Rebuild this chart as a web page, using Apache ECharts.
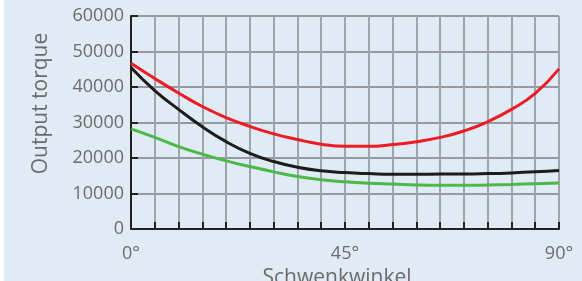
<!DOCTYPE html>
<html>
<head>
<meta charset="utf-8">
<style>
	html, body {
		margin: 0;
		padding: 0;
		background: #ffffff;
	}
	#chart {
		position: absolute;
		left: 4px;
		top: 0;
		width: 578px;
		height: 281px;
		background: #e1ebf6;
	}
</style>
<script src="https://cdn.jsdelivr.net/npm/echarts@6/dist/echarts.min.js"></script>
</head>
<body>
<div id="chart"></div>
<script>
	// Schwenkwinkel in 5° steps
	const angles = [0, 5, 10, 15, 20, 25, 30, 35, 40, 45, 50, 55, 60, 65, 70, 75, 80, 85, 90];
	const labeledAngles = [0, 45, 90];

	// Output torque per curve
	const redValues = [46700, 42400, 38300, 34500, 31400, 28900, 26800, 25200, 23900, 23300, 23300, 23800, 24600, 25800, 27600, 30200, 33700, 38200, 45100];
	const blackValues = [45500, 39000, 33700, 28800, 24600, 21300, 19000, 17400, 16400, 15900, 15600, 15400, 15400, 15500, 15500, 15600, 15800, 16100, 16500];
	const greenValues = [28200, 25800, 23200, 21100, 19200, 17600, 16100, 14800, 13900, 13300, 12900, 12650, 12400, 12300, 12300, 12400, 12550, 12750, 12950];

	const toPairs = (values) => angles.map((a, i) => [a, values[i]]);

	const chart = echarts.init(document.getElementById('chart'));

	const lineSeries = (name, values, color) => ({
		name: name,
		type: 'line',
		smooth: true,
		symbol: 'none',
		data: toPairs(values),
		lineStyle: {
			color: color,
			width: 3
		},
		z: 5
	});

	chart.setOption({
		animation: false,
		grid: {
			left: 127,
			right: 23,
			top: 16,
			bottom: 52,
			containLabel: false,
			outerBoundsMode: 'none'
		},
		xAxis: {
			type: 'value',
			min: 0,
			max: 90,
			interval: 5,
			name: 'Schwenkwinkel',
			nameLocation: 'middle',
			nameGap: 31,
			nameTextStyle: {
				fontFamily: 'Open Sans',
				fontSize: 21,
				color: '#6b6b6b',
				padding: [0, 16, 0, 0]
			},
			axisLine: {
				lineStyle: { color: '#222', width: 2 }
			},
			axisTick: {
				inside: true,
				length: 7,
				lineStyle: { color: '#222', width: 2 }
			},
			axisLabel: {
				margin: 16,
				fontFamily: 'Open Sans',
				fontSize: 18,
				color: '#6b6b6b',
				formatter: (v) => labeledAngles.includes(v) ? v + '°' : ''
			},
			splitLine: {
				show: true,
				lineStyle: { color: '#9ea4ab', width: 2 }
			}
		},
		yAxis: {
			type: 'value',
			min: 0,
			max: 60000,
			interval: 10000,
			name: 'Output torque',
			nameLocation: 'middle',
			nameRotate: 90,
			nameGap: 79,
			nameTextStyle: {
				fontFamily: 'Open Sans',
				fontSize: 21,
				color: '#6b6b6b',
				padding: [0, 0, 0, 38]
			},
			axisLine: {
				show: true,
				lineStyle: { color: '#222', width: 2 }
			},
			axisTick: {
				show: true,
				inside: true,
				length: 7,
				lineStyle: { color: '#222', width: 2 }
			},
			axisLabel: {
				margin: 7,
				fontFamily: 'Open Sans',
				fontSize: 18,
				color: '#6b6b6b',
				formatter: (v) => String(v)
			},
			splitLine: {
				show: true,
				lineStyle: { color: '#7d7f82', width: 1.5 }
			}
		},
		series: [
			lineSeries('rot', redValues, '#ec1c24'),
			lineSeries('schwarz', blackValues, '#1c1c1c'),
			lineSeries('grün', greenValues, '#4cb848')
		]
	});
</script>
</body>
</html>
